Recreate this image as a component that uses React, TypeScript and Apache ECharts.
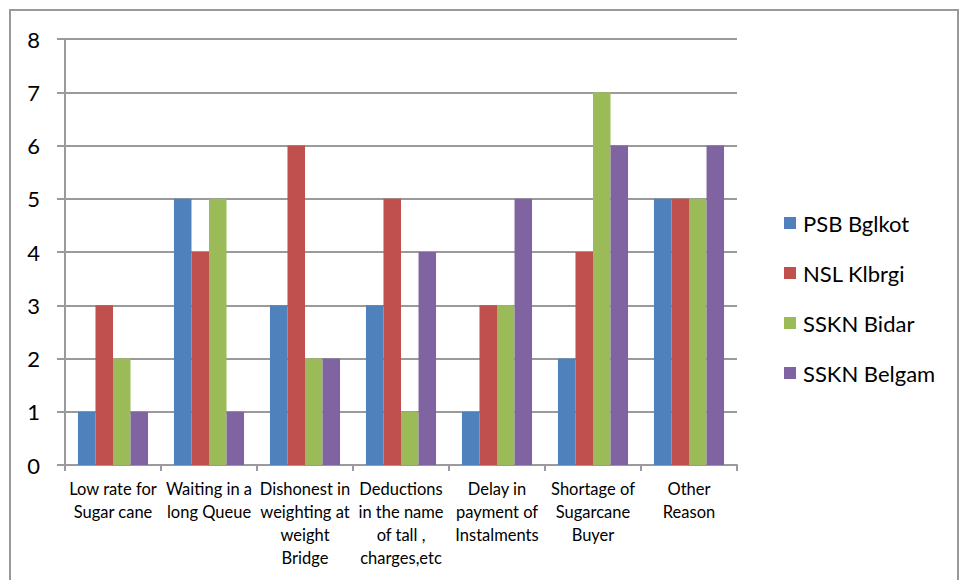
import React, { useEffect, useRef } from "react";
import * as echarts from "echarts";

const categories = [
  "Low rate for\nSugar cane",
  "Waiting in a\nlong Queue",
  "Dishonest in\nweighting at\nweight\nBridge",
  "Deductions\nin the name\nof tall ,\ncharges,etc",
  "Delay in\npayment of\nInstalments",
  "Shortage of\nSugarcane\nBuyer",
  "Other\nReason",
];
const psbBglkot = [1, 5, 3, 3, 1, 2, 5];
const nslKlbrgi = [3, 4, 6, 5, 3, 4, 5];
const ssknBidar = [2, 5, 2, 1, 3, 7, 5];
const ssknBelgam = [1, 1, 2, 4, 5, 6, 6];
const seriesNames = ["PSB Bglkot", "NSL Klbrgi", "SSKN Bidar", "SSKN Belgam"];
const colors = ["#4F81BD", "#C0504D", "#9BBB59", "#8064A2"];
const FONT = "Lato, 'Open Sans', sans-serif";

export default function App() {
  const ref = useRef<HTMLDivElement>(null);
  useEffect(() => {
    if (!ref.current) return;
    const chart = echarts.init(ref.current, null, { renderer: "svg" });
    const data = [psbBglkot, nslKlbrgi, ssknBidar, ssknBelgam];
    chart.setOption({
      animation: false,
      color: colors,
      textStyle: { fontFamily: FONT },
      graphic: [
        {
          type: "rect",
          shape: { x: 10, y: 10, width: 948, height: 580 },
          style: { fill: "none", stroke: "#999999", lineWidth: 2 },
          silent: true,
        },
      ],
      grid: { left: 65, right: 222, top: 39, bottom: 115, containLabel: false },
      legend: {
        orient: "vertical",
        left: 779,
        top: 207,
        itemWidth: 12,
        itemHeight: 12,
        itemGap: 28,
        icon: "rect",
        textStyle: { fontSize: 22, color: "#000", fontFamily: FONT, padding: [0, 0, 0, 2] },
        data: seriesNames,
      },
      xAxis: {
        type: "category",
        data: categories,
        axisLine: { lineStyle: { color: "#9a9a9a", width: 2 } },
        axisTick: { show: true, length: 6, lineStyle: { color: "#9a9a9a", width: 2 } },
        axisLabel: {
          interval: 0,
          fontSize: 16.5,
          color: "#000",
          lineHeight: 23,
          margin: 12,
          fontFamily: FONT,
          align: "center",
        },
      },
      yAxis: {
        type: "value",
        min: 0,
        max: 8,
        interval: 1,
        axisLine: { show: true, lineStyle: { color: "#9a9a9a", width: 2 } },
        axisTick: { show: true, length: 8, lineStyle: { color: "#9a9a9a", width: 2 } },
        splitLine: { show: true, lineStyle: { color: "#9a9a9a", width: 2 } },
        axisLabel: { fontSize: 22, color: "#000", margin: 25, fontFamily: FONT },
      },
      series: seriesNames.map((name, i) => ({
        name,
        type: "bar",
        data: data[i],
        barGap: "0%",
        barCategoryGap: "27%",
        itemStyle: { color: colors[i] },
      })),
    });
    return () => chart.dispose();
  }, []);
  return (
    <div
      ref={ref}
      style={{ position: "fixed", left: 0, top: 0, width: 959, height: 580, background: "#fff" }}
    />
  );
}
